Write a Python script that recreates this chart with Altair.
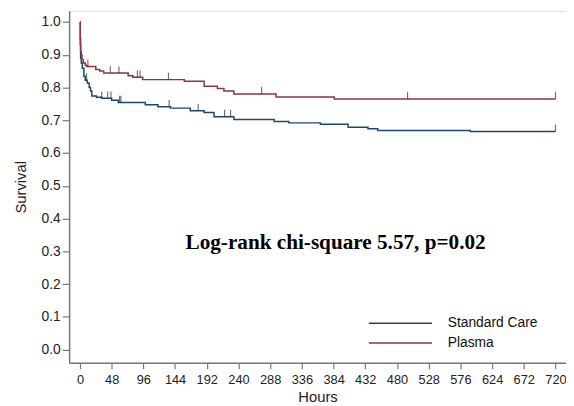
import altair as alt
import pandas as pd
import numpy as np

# ---- data ----
groups = ["Standard Care", "Plasma"]
colors = ["#1a476f", "#90353b"]

sc_hours = [0, 0.5, 1, 2, 3.5, 6, 8, 11, 14, 16, 18, 25, 33, 48, 58, 99, 118, 137,
            167, 188, 203, 233, 294, 316, 364, 406, 436, 451, 591, 720]
sc_surv = [1.0, 0.93, 0.889, 0.875, 0.859, 0.834, 0.822, 0.814, 0.80, 0.789, 0.774,
           0.77, 0.767, 0.761, 0.754, 0.747, 0.741, 0.737, 0.729, 0.724, 0.711, 0.702,
           0.696, 0.692, 0.688, 0.679, 0.674, 0.669, 0.666, 0.666]
sc_censor = [10, 33, 42, 47, 60, 62, 135, 179, 219, 228, 720]

pl_hours = [0, 0.5, 1, 2, 3, 5, 8, 10, 24, 30, 36, 73, 80, 95, 158, 188, 208, 218,
            233, 297, 385, 720]
pl_surv = [1.0, 0.95, 0.91, 0.90, 0.885, 0.875, 0.868, 0.864, 0.855, 0.85, 0.844,
           0.836, 0.831, 0.824, 0.819, 0.804, 0.797, 0.789, 0.78, 0.771, 0.765, 0.765]
pl_censor = [12, 46, 59, 87, 91, 134, 275, 496, 720]

x_ticks = list(range(0, 721, 48))
y_ticks = [round(i * 0.1, 1) for i in range(11)]

annot_text = ["Log-rank chi-square 5.57, p=0.02"]
annot_x = [387]
annot_y = [0.326]

# ---- build tables ----
curves = pd.concat([
    pd.DataFrame({"hours": sc_hours, "surv": sc_surv, "group": groups[0]}),
    pd.DataFrame({"hours": pl_hours, "surv": pl_surv, "group": groups[1]}),
])


def step_value(ts, ss, t):
    i = np.searchsorted(np.array(ts), t, side="right") - 1
    return ss[i]


cens = pd.concat([
    pd.DataFrame({"hours": sc_censor,
                  "surv": [step_value(sc_hours, sc_surv, t) for t in sc_censor],
                  "group": groups[0]}),
    pd.DataFrame({"hours": pl_censor,
                  "surv": [step_value(pl_hours, pl_surv, t) for t in pl_censor],
                  "group": groups[1]}),
])

annot = pd.DataFrame({"hours": annot_x, "surv": annot_y, "text": annot_text})

xscale = alt.Scale(domain=[-16.4, 735.9], nice=False, zero=False)
yscale = alt.Scale(domain=[-0.040, 1.034], nice=False, zero=False)

font = "Liberation Sans"

x_axis = alt.Axis(
    values=x_ticks, title="Hours", labelFontSize=13, titleFontSize=15,
    labelPadding=5, tickSize=6, titlePadding=3, labelFlush=False, labelOverlap=False,
    grid=False, titleFontWeight="normal", labelFont=font, titleFont=font,
    domainColor="#777", domainWidth=1.5, tickColor="#777", tickWidth=1.2,
    labelColor="#222", titleColor="#222")
y_axis = alt.Axis(
    values=y_ticks, format=".1f", title="Survival", labelFontSize=14, titleFontSize=15,
    labelPadding=2, tickSize=7, titlePadding=13, labelOverlap=False, labelFlush=False,
    grid=False, titleFontWeight="normal", labelFont=font, titleFont=font,
    domainColor="#777", domainWidth=1.5, tickColor="#777", tickWidth=1.2,
    labelColor="#222", titleColor="#222")

x_enc = alt.X("hours:Q", scale=xscale, axis=x_axis)
y_enc = alt.Y("surv:Q", scale=yscale, axis=y_axis)

lines = alt.Chart(curves).mark_line(interpolate="step-after", strokeWidth=1.5).encode(
    x=x_enc,
    y=y_enc,
    color=alt.Color("group:N", scale=alt.Scale(domain=groups, range=colors),
                    sort=groups,
                    legend=alt.Legend(
                        title=None, orient="none", legendX=325, legendY=306,
                        symbolType="M-3.2,0H3.2", symbolSize=400, symbolStrokeWidth=1.5,
                        symbolFillColor="transparent",
                        labelFontSize=14, labelFont=font, labelColor="#111",
                        labelOffset=37, rowPadding=2, padding=0)),
    detail="group:N",
)

ticks = alt.Chart(cens).mark_tick(orient="vertical", size=7, yOffset=-3.5,
                                   thickness=1.2, color="#333").encode(
    x=x_enc,
    y=y_enc,
)

text = alt.Chart(annot).mark_text(font="Liberation Serif", fontWeight="bold",
                                  fontSize=21.5, color="#000").encode(
    x=x_enc,
    y=y_enc,
    text="text:N",
)

chart = alt.layer(lines, ticks, text).properties(
    width=504, height=357,
    autosize=alt.AutoSizeParams(type="none"),
    padding={"left": 62, "top": 0, "right": 0, "bottom": 40},
).configure_view(stroke=None).configure_axis(
    grid=False,
).configure(background="white")

chart.save("out.html", embed_options={"renderer": "svg", "actions": False})
